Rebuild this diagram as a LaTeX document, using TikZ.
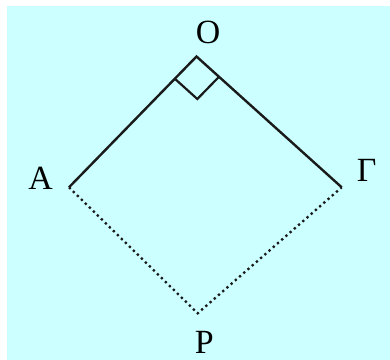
\documentclass[tikz,border=0pt]{standalone}
\usepackage{fontspec}
\setmainfont{Liberation Serif}
\usetikzlibrary{calc}
\definecolor{bgcyan}{HTML}{CCFFFF}
\definecolor{ink}{HTML}{1A1A1A}
\begin{document}
\begin{tikzpicture}[x=1bp,y=-1bp,
  lbl/.style={inner sep=0pt,font=\fontsize{34}{40}\selectfont},
  side/.style={draw=ink,line width=2.4bp},
  dotside/.style={draw=ink,line width=2.3bp,dash pattern=on 2.3bp off 3.3bp},
  marker/.style={draw=ink,line width=2.2bp}]
\useasboundingbox (0,0) rectangle (390,360);
\fill[bgcyan] (7,6) rectangle (390,359.5);
\coordinate (O) at (196.5,56.5);
\coordinate (A) at (69,187.3);
\coordinate (G) at (341.7,187.3);
\coordinate (P) at (197.7,313.3);
\node[lbl] (lO) at (208,32) {Ο};
\node[lbl] (lA) at (40.5,178.5) {Α};
\node[lbl] (lG) at (366.7,170.5) {Γ};
\node[lbl] (lP) at (204.3,342) {Ρ};
\draw[side,line join=miter] (A) -- (O) -- (G);
\draw[dotside] (A) -- (P) -- (G);
\coordinate (ma) at ($(O)!0.17!(A)$);
\coordinate (mg) at ($(O)!0.155!(G)$);
\coordinate (mc) at ($(ma)+(mg)-(O)$);
\draw[marker] (ma) -- (mc) -- (mg);
\end{tikzpicture}
\end{document}
